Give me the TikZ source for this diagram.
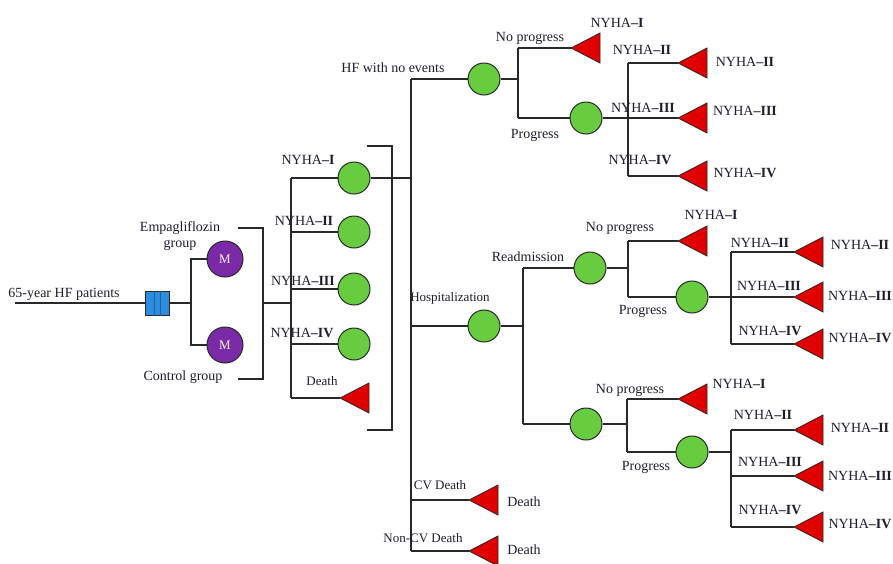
\documentclass[tikz,border=0pt]{standalone}
\usepackage{fontspec}
\setmainfont{Liberation Serif}
\definecolor{cgreen}{RGB}{104,204,64}
\definecolor{cpurple}{RGB}{122,42,166}
\definecolor{cblue}{RGB}{46,140,222}
\definecolor{cred}{RGB}{224,0,0}
\definecolor{ctext}{RGB}{30,30,45}
\definecolor{cline}{RGB}{40,40,40}
\newcommand\NY[1]{NYHA\textbf{–#1}}
\newcommand\redtri[2]{\coordinate (#1) at (#2); \filldraw[trif] (#1) -- ++(29,-15) -- ++(0,30) -- cycle;}
\tikzset{
 ln/.style={draw=cline, line width=1.3pt},
 chance/.style={circle, draw=cline, line width=1pt, fill=cgreen, minimum size=32pt, inner sep=0pt},
 mnode/.style={circle, draw=cline, line width=1pt, fill=cpurple, minimum size=36pt, inner sep=0pt, text=white, font=\fontsize{13}{15}\selectfont},
 decbox/.style={rectangle, draw=cline, line width=1pt, fill=cblue, minimum size=24pt, inner sep=0pt},
 lbl/.style={text=ctext, font=\fontsize{14}{16}\selectfont, inner sep=0pt},
 slbl/.style={text=ctext, font=\fontsize{13}{15}\selectfont, inner sep=0pt},
 trif/.style={fill=cred, draw=cline, line width=0.8pt, line join=miter},
}
\begin{document}
\begin{tikzpicture}[x=1pt,y=-1pt]
\useasboundingbox[fill=white] (0,0) rectangle (893,563);
% ---------- root ----------
\node[lbl] (lroot) at (64,294) {65-year HF patients};
\coordinate (start) at (15,303);
\node[decbox] (dec) at (157,303) {};
\draw[cblue!70!black, line width=0.4pt] ([xshift=-3pt]dec.north) -- ([xshift=-3pt]dec.south);
\draw[cblue!70!black, line width=0.4pt] ([xshift=3pt]dec.north) -- ([xshift=3pt]dec.south);
\node[mnode] (m1) at (225,259) {M};
\node[mnode] (m2) at (225,345) {M};
\coordinate (jm) at (191,303);
\draw[ln] (start) -- (dec);
\draw[ln] (dec) -- (jm);
\draw[ln] (m1) -| (jm) |- (m2);
\node[lbl, align=center] (lemp) at (180,236) {Empagliflozin\\group};
\node[lbl] (lctrl) at (183,377) {Control group};
% ---------- bracket 1 ----------
\coordinate (b1) at (238,228); \coordinate (b2) at (263,228);
\coordinate (b3) at (263,379); \coordinate (b4) at (238,379);
\coordinate (bm) at (263,303); \coordinate (nv) at (291,303);
\draw[ln] (b1) -- (b2) -- (b3) -- (b4);
\draw[ln] (bm) -- (nv);
% ---------- NYHA states ----------
\coordinate (n1) at (291,178); \coordinate (n2) at (291,232);
\coordinate (n3) at (291,289); \coordinate (n4) at (291,344);
\coordinate (n5) at (291,398);
\draw[ln] (n1) -- (n5);
\node[chance] (c1) at (354,178) {};
\node[chance] (c2) at (354,232) {};
\node[chance] (c3) at (354,289) {};
\node[chance] (c4) at (354,344) {};
\redtri{td}{340,398}
\draw[ln] (n1) -- (c1); \draw[ln] (n2) -- (c2);
\draw[ln] (n3) -- (c3); \draw[ln] (n4) -- (c4);
\draw[ln] (n5) -- (td);
\node[lbl] (l1) at (308,160) {\NY{I}};
\node[lbl] (l2) at (304,221) {\NY{II}};
\node[lbl] (l3) at (303,281) {\NY{III}};
\node[lbl] (l4) at (302,333) {\NY{IV}};
\node[slbl] (ld) at (322,381) {Death};
% ---------- bracket 2 ----------
\coordinate (k1) at (367,146); \coordinate (k2) at (392,146);
\coordinate (k3) at (392,430); \coordinate (k4) at (367,430);
\draw[ln] (k1) -- (k2) -- (k3) -- (k4);
% ---------- main vertical ----------
\coordinate (v0) at (411,79); \coordinate (vc) at (411,178);
\coordinate (vh) at (411,326); \coordinate (vd1) at (411,500);
\coordinate (v1) at (411,551);
\draw[ln] (v0) -- (v1);
\draw[ln] (c1) -- (vc);
% ---------- HF with no events ----------
\node[chance] (hf) at (484,79) {};
\node[lbl] (lhf) at (393,68) {HF with no events};
\draw[ln] (v0) -- (hf);
\coordinate (a0) at (518,79); \coordinate (a1) at (518,48); \coordinate (a2) at (518,118);
\draw[ln] (hf) -- (a0);
\draw[ln] (a1) -- (a2);
\redtri{ta1}{571,48}
\node[chance] (p1) at (586,118) {};
\draw[ln] (a1) -- (ta1); \draw[ln] (a2) -- (p1);
\node[lbl] (lnp1) at (530,38) {No progress};
\node[lbl] (lp1) at (535,135) {Progress};
\node[lbl] (lt1) at (617,23) {\NY{I}};
\coordinate (e1) at (628,63); \coordinate (e3) at (628,176);
\draw[ln] (e1) -- (e3);
\redtri{tb2}{678,63}
\redtri{tb3}{678,118}
\redtri{tb4}{678,176}
\draw[ln] (e1) -- (tb2); \draw[ln] (p1) -- (tb3); \draw[ln] (e3) -- (tb4);
\node[lbl] (lb2) at (642,50) {\NY{II}};
\node[lbl] (lb3) at (643,108) {\NY{III}};
\node[lbl] (lb4) at (640,160) {\NY{IV}};
\node[lbl] (rb2) at (745,62) {\NY{II}};
\node[lbl] (rb3) at (745,111) {\NY{III}};
\node[lbl] (rb4) at (745,173) {\NY{IV}};
% ---------- Hospitalization ----------
\node[chance] (ho) at (484,326) {};
\node[slbl] (lho) at (450,298) {Hospitalization};
\draw[ln] (vh) -- (ho);
\coordinate (h0) at (523,326); \coordinate (h1) at (523,268); \coordinate (h2) at (523,424);
\draw[ln] (ho) -- (h0);
\draw[ln] (h1) -- (h2);
\node[chance] (re) at (590,268) {};
\node[lbl] (lre) at (528,257) {Readmission};
\draw[ln] (h1) -- (re);
% readmission subtree
\coordinate (r0) at (628,268); \coordinate (r1) at (628,241); \coordinate (r2) at (628,297);
\draw[ln] (re) -- (r0); \draw[ln] (r1) -- (r2);
\redtri{tr1}{678,241}
\node[chance] (p2) at (692,297) {};
\draw[ln] (r1) -- (tr1); \draw[ln] (r2) -- (p2);
\node[lbl] (lnp2) at (620,228) {No progress};
\node[lbl] (lp2) at (643,311) {Progress};
\node[lbl] (lt2) at (711,215) {\NY{I}};
\coordinate (f1) at (731,252); \coordinate (f3) at (731,344);
\draw[ln] (f1) -- (f3);
\redtri{tc2}{794,252}
\redtri{tc3}{794,297}
\redtri{tc4}{794,344}
\draw[ln] (f1) -- (tc2); \draw[ln] (p2) -- (tc3); \draw[ln] (f3) -- (tc4);
\node[lbl] (lc2) at (760,243) {\NY{II}};
\node[lbl] (lc3) at (769,286) {\NY{III}};
\node[lbl] (lc4) at (770,331) {\NY{IV}};
\node[lbl] (rc2) at (860,245) {\NY{II}};
\node[lbl] (rc3) at (860,296) {\NY{III}};
\node[lbl] (rc4) at (860,338) {\NY{IV}};
% second subtree
\node[chance] (s2) at (586,424) {};
\draw[ln] (h2) -- (s2);
\coordinate (q0) at (627,424); \coordinate (q1) at (627,399); \coordinate (q2) at (627,452);
\draw[ln] (s2) -- (q0); \draw[ln] (q1) -- (q2);
\redtri{tq1}{678,399}
\node[chance] (p3) at (692,452) {};
\draw[ln] (q1) -- (tq1); \draw[ln] (q2) -- (p3);
\node[lbl] (lnp3) at (630,390) {No progress};
\node[lbl] (lp3) at (646,467) {Progress};
\node[lbl] (lt3) at (739,384) {\NY{I}};
\coordinate (g1) at (731,430); \coordinate (g3) at (731,527);
\draw[ln] (g1) -- (g3);
\redtri{td2}{794,430}
\redtri{td3}{794,476}
\redtri{td4}{794,527}
\coordinate (g2) at (731,476);
\draw[ln] (p3) -- (g1 |- p3);
\draw[ln] (g1) -- (td2); \draw[ln] (g2) -- (td3); \draw[ln] (g3) -- (td4);
\node[lbl] (ld2) at (763,415) {\NY{II}};
\node[lbl] (ld3) at (770,462) {\NY{III}};
\node[lbl] (ld4) at (770,510) {\NY{IV}};
\node[lbl] (rd2) at (860,428) {\NY{II}};
\node[lbl] (rd3) at (860,476) {\NY{III}};
\node[lbl] (rd4) at (860,524) {\NY{IV}};
% ---------- deaths ----------
\redtri{tcv}{469,500}
\redtri{tncv}{469,551}
\draw[ln] (vd1) -- (tcv); \draw[ln] (v1) -- (tncv);
\node[slbl] (lcv) at (440,485) {CV Death};
\node[slbl] (lncv) at (423,538) {Non-CV Death};
\node[lbl] (ldcv) at (524,502) {Death};
\node[lbl] (ldncv) at (524,550) {Death};
\end{tikzpicture}
\end{document}
